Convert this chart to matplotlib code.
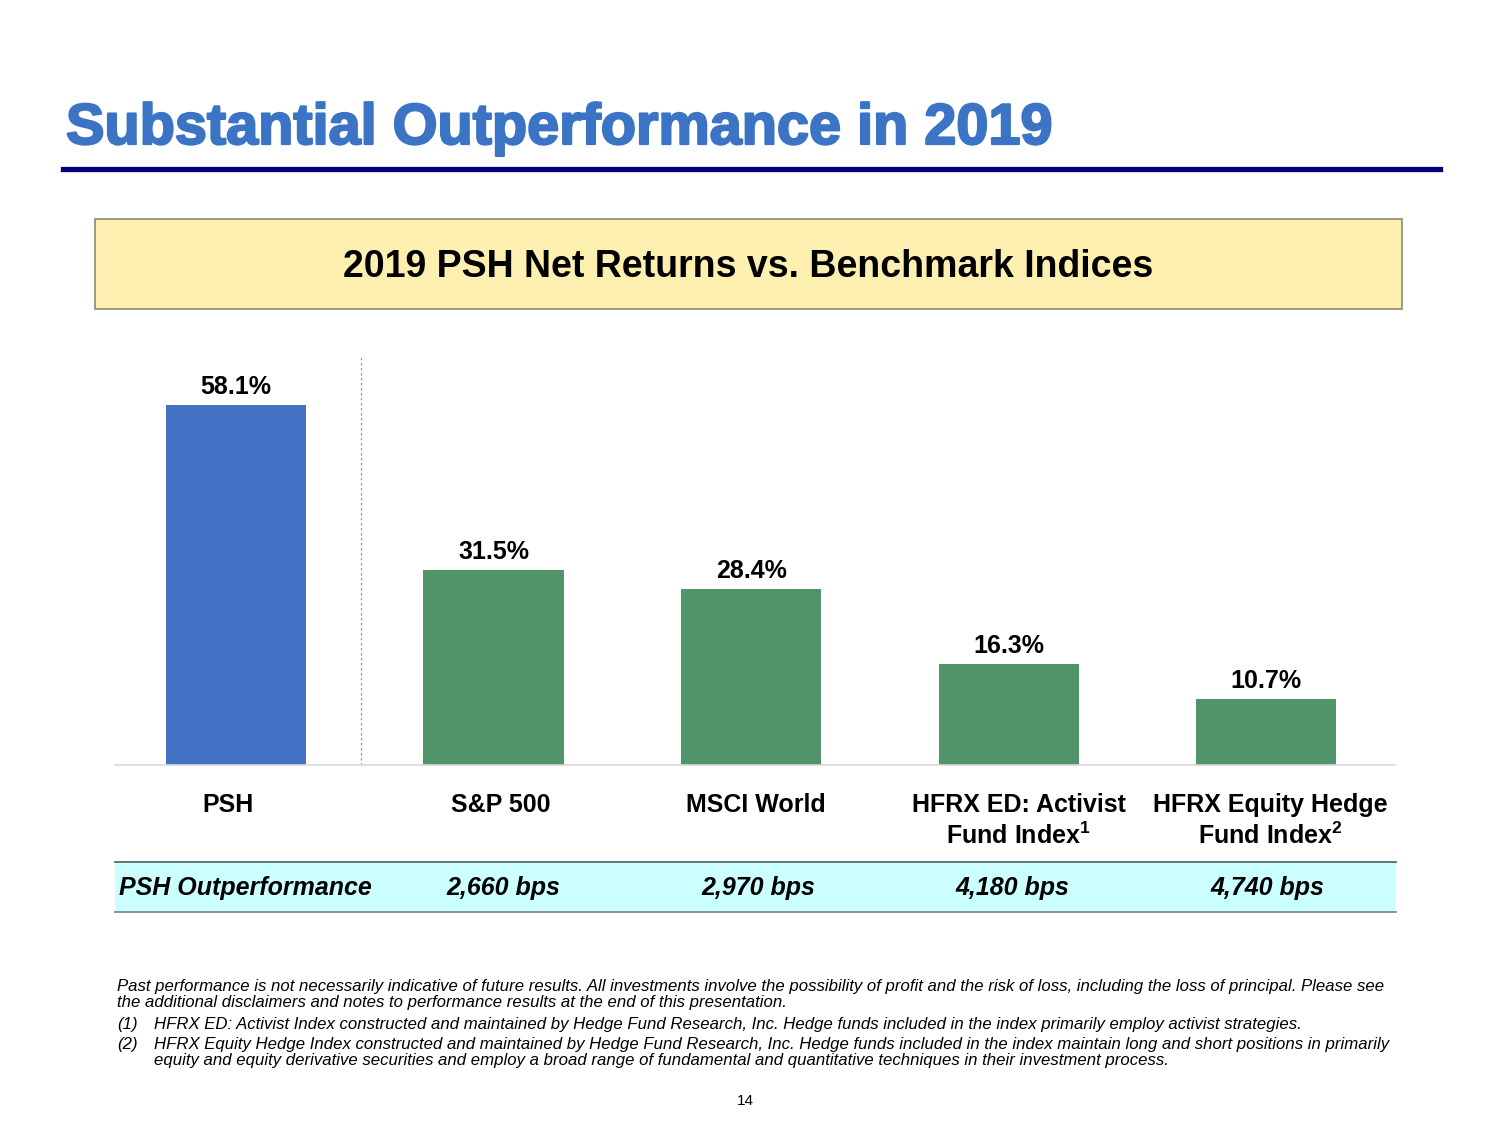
import matplotlib
matplotlib.use("Agg")
import matplotlib.pyplot as plt
import matplotlib.patheffects as pe
from matplotlib.patches import Rectangle
from matplotlib.lines import Line2D
from matplotlib.transforms import ScaledTranslation

plt.rcParams['font.family'] = ['Liberation Sans', 'DejaVu Sans']
plt.rcParams['mathtext.fontset'] = 'custom'
plt.rcParams['mathtext.rm'] = 'Liberation Sans'
plt.rcParams['mathtext.bf'] = 'Liberation Sans:bold'

# Dados do grafico
categorias = ["PSH", "S&P 500", "MSCI World",
              "HFRX ED: Activist\nFund Index$^{\\mathbf{1}}$",
              "HFRX Equity Hedge\nFund Index$^{\\mathbf{2}}$"]
retornos = [58.1, 31.5, 28.4, 16.3, 10.7]
cores = ["#4472C4", "#52946A", "#52946A", "#52946A", "#52946A"]
outperformance = ["2,660 bps", "2,970 bps", "4,180 bps", "4,740 bps"]

W, H = 1500, 1125
fig = plt.figure(figsize=(15, 11.25), dpi=100)


def fx(x):
    return x / W


def fy(y):
    return 1 - y / H


# Titulo e linha
fig.text(fx(66), fy(129), "Substantial Outperformance in 2019", fontsize=41.5,
         fontweight='bold', color="#3B73C5", va='center', ha='left',
         path_effects=[pe.withStroke(linewidth=1.6, foreground="#3B73C5")])
fig.add_artist(Line2D([fx(63), fx(1440)], [fy(169), fy(169)], color="#000080", lw=3.8))

# Caixa amarela
fig.add_artist(Rectangle((fx(95), fy(309)), fx(1402) - fx(95), fy(219) - fy(309),
                         facecolor="#FDEFB0", edgecolor="#8C8C70", lw=1.2))
fig.text(fx(748), fy(267), "2019 PSH Net Returns vs. Benchmark Indices", fontsize=27,
         fontweight='bold', ha='center', va='center')

# Grafico de barras
ax = fig.add_axes([fx(115), fy(765), fx(1395) - fx(115), fy(355) - fy(765)])
x = range(len(retornos))
barras = ax.bar(x, retornos, width=0.545, color=cores)
for xi, v in zip(x, retornos):
    ax.text(xi, v + 1.0, f"{v:.1f}%", ha='center', va='bottom', fontsize=18, fontweight='bold')
ax.set_xlim(-0.47, 4.50)
ax.set_ylim(0, 66.2)
ax.axvline(0.485, color="#999999", lw=0.9, ls=(0, (2, 2)))
for s in ["top", "right", "left"]:
    ax.spines[s].set_visible(False)
ax.spines["bottom"].set_color("#D9D9D9")
ax.spines["bottom"].set_linewidth(1.2)
ax.set_yticks([])
ax.set_xticks(list(x))
ax.set_xticklabels(categorias, fontsize=18, fontweight='bold', linespacing=1.25, va='top')
ax.tick_params(axis='x', length=0, pad=20)
# pequenos deslocamentos dos rotulos como na tabela original
for lbl, dx in zip(ax.get_xticklabels(), [-8, 7, 5, 10, 4]):
    lbl.set_transform(lbl.get_transform() + ScaledTranslation(dx / 100, 0, fig.dpi_scale_trans))

# Linha da tabela
fig.add_artist(Rectangle((fx(115), fy(912)), fx(1396) - fx(115), fy(862) - fy(912),
                         facecolor="#CCFFFF", edgecolor='none'))
fig.add_artist(Line2D([fx(115), fx(1396)], [fy(862), fy(862)], color="#4F6B6B", lw=1.3))
fig.add_artist(Line2D([fx(115), fx(1396)], [fy(912), fy(912)], color="#7F8F8F", lw=1.3))
fig.text(fx(119), fy(888), "PSH Outperformance", fontsize=18, fontweight='bold',
         style='italic', ha='left', va='center')
for xi, txt in zip([503, 758, 1012, 1267], outperformance):
    fig.text(fx(xi), fy(888), txt, fontsize=18, fontweight='bold', style='italic',
             ha='center', va='center')

# Notas de rodape
fs = 12.05
nota = ("Past performance is not necessarily indicative of future results. All investments involve the "
        "possibility of profit and the risk of loss, including the loss of principal. Please see\n"
        "the additional disclaimers and notes to performance results at the end of this presentation.")
fig.text(fx(117), fy(987), nota.split("\n")[0], fontsize=fs, style='italic', ha='left', va='center')
fig.text(fx(117), fy(1003), nota.split("\n")[1], fontsize=fs, style='italic', ha='left', va='center')
fig.text(fx(117), fy(1024), "(1)", fontsize=fs, style='italic', ha='left', va='center')
fig.text(fx(154), fy(1024), "HFRX ED: Activist Index constructed and maintained by Hedge Fund Research, "
         "Inc. Hedge funds included in the index primarily employ activist strategies.",
         fontsize=fs, style='italic', ha='left', va='center')
fig.text(fx(117), fy(1044), "(2)", fontsize=fs, style='italic', ha='left', va='center')
fig.text(fx(154), fy(1044), "HFRX Equity Hedge Index constructed and maintained by Hedge Fund Research, "
         "Inc. Hedge funds included in the index maintain long and short positions in primarily",
         fontsize=fs, style='italic', ha='left', va='center')
fig.text(fx(154), fy(1060), "equity and equity derivative securities and employ a broad range of "
         "fundamental and quantitative techniques in their investment process.",
         fontsize=fs, style='italic', ha='left', va='center')
fig.text(fx(745), fy(1101), "14", fontsize=11, ha='center', va='center')

fig.savefig("out.png", dpi=100)
